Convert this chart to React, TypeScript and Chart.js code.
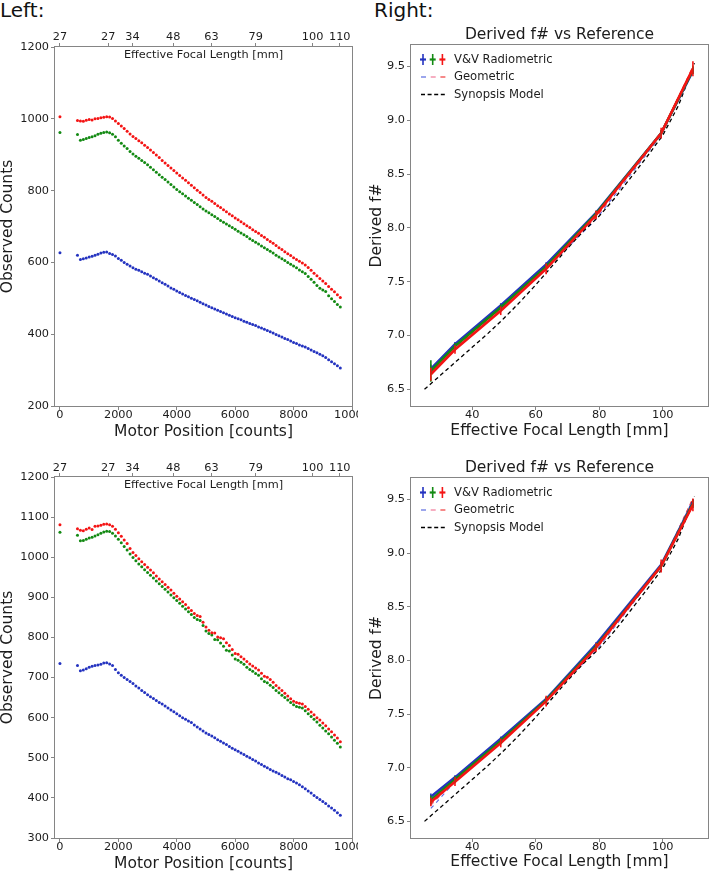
import React, { useEffect, useRef } from "react";
import { Chart, registerables } from "chart.js";
Chart.register(...registerables);

const FONT_FAMILY = "'DejaVu Sans', 'Liberation Sans', sans-serif";
const SPINE = "#858585";
const TEXT = "#1c1c1c";
const RED = "#f41414";
const GREEN = "#138a13";
const BLUE = "#2433c0";
const GEO_BLUE = "#5a6ae0";
const GEO_PINK = "#f07898";
const GEO_RED = "#f03a3a";

// ---------------- Left panels: observed counts vs motor position ----------------
const motorPosition = [
  0,
  600, 700, 800, 900,
  1000, 1100, 1200, 1300, 1400, 1500, 1600, 1700, 1800, 1900,
  2000, 2100, 2200, 2300, 2400, 2500, 2600, 2700, 2800, 2900,
  3000, 3100, 3200, 3300, 3400, 3500, 3600, 3700, 3800, 3900,
  4000, 4100, 4200, 4300, 4400, 4500, 4600, 4700, 4800, 4900,
  5000, 5100, 5200, 5300, 5400, 5500, 5600, 5700, 5800, 5900,
  6000, 6100, 6200, 6300, 6400, 6500, 6600, 6700, 6800, 6900,
  7000, 7100, 7200, 7300, 7400, 7500, 7600, 7700, 7800, 7900,
  8000, 8100, 8200, 8300, 8400, 8500, 8600, 8700, 8800, 8900,
  9000, 9100, 9200, 9300, 9400, 9500, 9600,
];

const topRed = [
  1006,
  995, 994, 993, 996,
  998, 997, 1000, 1001, 1003, 1004, 1006, 1005, 1001, 994,
  987, 980, 973, 965, 958, 951, 945, 939, 933, 926,
  920, 913, 906, 899, 892, 884, 877, 870, 863, 856,
  849, 842, 835, 829, 822, 815, 808, 801, 795, 788,
  781, 775, 770, 764, 758, 753, 747, 741, 735, 730,
  724, 719, 713, 708, 702, 697, 691, 686, 681, 675,
  670, 664, 658, 653, 647, 641, 636, 630, 624, 619,
  613, 608, 603, 598, 593, 586, 578, 570, 563, 555,
  548, 541, 533, 525, 518, 510, 502,
];
const topGreen = [
  962,
  956, 940, 942, 945,
  948, 950, 953, 957, 960, 962, 963, 961, 957, 950,
  940, 932, 924, 917, 909, 902, 896, 890, 884, 878,
  872, 865, 858, 851, 844, 837, 831, 824, 817, 810,
  803, 797, 791, 785, 779, 773, 767, 761, 755, 749,
  743, 738, 733, 728, 722, 717, 712, 707, 702, 697,
  692, 687, 682, 677, 672, 666, 661, 656, 651, 646,
  641, 636, 631, 626, 620, 615, 610, 605, 600, 595,
  590, 585, 579, 574, 569, 561, 553, 545, 536, 528,
  523, 519, 507, 499, 491, 483, 476,
];
const topBlue = [
  627,
  620, 608, 610, 612,
  615, 617, 620, 623, 626, 628, 629, 625, 622, 618,
  611, 606, 600, 595, 590, 585, 581, 578, 574, 570,
  567, 562, 557, 553, 548, 543, 539, 534, 529, 525,
  520, 516, 512, 508, 504, 500, 497, 493, 489, 485,
  481, 477, 474, 470, 467, 463, 460, 456, 453, 449,
  446, 443, 440, 436, 433, 430, 427, 424, 420, 417,
  414, 410, 407, 403, 399, 396, 392, 388, 385, 381,
  377, 374, 370, 367, 364, 360, 356, 352, 348, 344,
  340, 335, 329, 323, 318, 312, 306,
];

const botRed = [
  1081,
  1071, 1067, 1066, 1070,
  1073, 1069, 1077, 1078, 1080, 1082, 1083, 1081, 1077, 1070,
  1061, 1052, 1043, 1034, 1022, 1012, 1004, 996, 989, 982,
  975, 968, 961, 953, 946, 939, 932, 925, 918, 910,
  903, 896, 889, 882, 874, 867, 860, 855, 852, 838,
  826, 818, 812, 811, 801, 799, 797, 787, 780, 770,
  760, 758, 752, 746, 740, 734, 729, 724, 719, 711,
  703, 701, 695, 688, 680, 674, 668, 661, 654, 647,
  641, 638, 636, 634, 628, 621, 614, 607, 600, 594,
  587, 580, 572, 565, 557, 549, 540,
];
const botGreen = [
  1062,
  1055, 1041, 1042, 1045,
  1048, 1050, 1053, 1056, 1060, 1063, 1065, 1064, 1060, 1053,
  1045, 1036, 1027, 1018, 1008, 999, 991, 983, 976, 969,
  962, 955, 948, 941, 934, 927, 920, 913, 906, 899,
  892, 885, 878, 871, 864, 857, 850, 845, 842, 830,
  816, 810, 806, 795, 794, 786, 778, 768, 766, 756,
  746, 743, 738, 733, 726, 720, 716, 710, 706, 697,
  690, 687, 681, 675, 668, 662, 656, 650, 644, 638,
  632, 628, 626, 624, 617, 610, 603, 596, 589, 581,
  574, 567, 560, 552, 544, 536, 527,
];
const botBlue = [
  735,
  730, 717, 719, 722,
  726, 728, 730, 731, 733, 736, 737, 734, 730, 720,
  712, 706, 700, 695, 690, 685, 679, 674, 668, 663,
  657, 652, 648, 643, 638, 634, 629, 624, 619, 615,
  610, 605, 600, 596, 592, 588, 582, 577, 572, 567,
  562, 558, 554, 550, 545, 541, 537, 533, 528, 524,
  520, 516, 512, 508, 504, 500, 496, 492, 487, 483,
  479, 475, 471, 467, 464, 460, 456, 452, 448, 445,
  441, 437, 433, 428, 423, 417, 412, 406, 401, 396,
  391, 386, 380, 375, 369, 363, 357,
];

const motorTicks = [0, 2000, 4000, 6000, 8000, 10000];
const eflTickMotor = [0, 1650, 2480, 3880, 5190, 6700, 8650, 9580];
const eflTickLabels = ["27", "27", "34", "48", "63", "79", "100", "110"];
const topCountTicks = [200, 400, 600, 800, 1000, 1200];
const botCountTicks = [300, 400, 500, 600, 700, 800, 900, 1000, 1100, 1200];

// ---------------- Right panels: derived f# vs EFL ----------------
const vvEfl = [27, 34.6, 49, 63.3, 79, 99.5, 109.5];

const topVvBlue = [6.69, 6.92, 7.28, 7.66, 8.14, 8.88, 9.46];
const topVvGreen = [6.67, 6.90, 7.26, 7.64, 8.13, 8.88, 9.47];
const topVvRed = [6.64, 6.87, 7.23, 7.62, 8.12, 8.88, 9.48];
const topErrBlue = [0.04, 0.02, 0.02, 0.02, 0.02, 0.03, 0.03];
const topErrGreen = [0.1, 0.03, 0.03, 0.03, 0.03, 0.03, 0.04];
const topErrRed = [0.06, 0.04, 0.04, 0.05, 0.04, 0.05, 0.07];
const topGeoBlue = [6.64, 6.88, 7.24, 7.62, 8.08, 8.86, 9.48];
const topGeoPink = [6.66, 6.89, 7.25, 7.63, 8.10, 8.87, 9.49];
const topGeoRed = [6.65, 6.88, 7.24, 7.62, 8.10, 8.88, 9.50];

const botVvBlue = [6.73, 6.91, 7.27, 7.64, 8.15, 8.89, 9.47];
const botVvGreen = [6.70, 6.89, 7.25, 7.63, 8.13, 8.88, 9.46];
const botVvRed = [6.68, 6.87, 7.23, 7.62, 8.12, 8.88, 9.45];
const botErrBlue = [0.03, 0.02, 0.02, 0.02, 0.02, 0.03, 0.03];
const botErrGreen = [0.04, 0.03, 0.03, 0.03, 0.03, 0.03, 0.04];
const botErrRed = [0.04, 0.04, 0.04, 0.05, 0.04, 0.06, 0.06];
const botGeoBlue = [6.62, 6.87, 7.24, 7.63, 8.09, 8.87, 9.50];
const botGeoPink = [6.65, 6.88, 7.25, 7.64, 8.10, 8.88, 9.51];
const botGeoRed = [6.66, 6.88, 7.24, 7.63, 8.11, 8.88, 9.51];

const synopsisEfl = [25, 30, 35, 40, 45, 50, 55, 60, 65, 70, 75, 80, 85, 90, 95, 100, 105, 110];
const synopsisFnum = [6.50, 6.63, 6.76, 6.89, 7.02, 7.16, 7.31, 7.47, 7.64, 7.81, 7.97, 8.11, 8.28, 8.47, 8.66, 8.86, 9.14, 9.53];

const eflTicks = [40, 60, 80, 100];
const fnumTicks = [6.5, 7.0, 7.5, 8.0, 8.5, 9.0, 9.5];

// ---------------- helpers ----------------
const tickFont = { family: FONT_FAMILY, size: 11.3, lineHeight: 1 };
const titleFont = { family: FONT_FAMILY, size: 15.5, lineHeight: 1 };
const gridOpts = {
  display: true,
  drawOnChartArea: false,
  drawTicks: true,
  tickLength: 4,
  color: SPINE,
  tickColor: SPINE,
  lineWidth: 1,
};

const fixedX = (h: number) => (s: any) => {
  s.height = h;
  s.paddingLeft = 0;
  s.paddingRight = 0;
};
const fixedY = (w: number) => (s: any) => {
  s.width = w;
  s.paddingTop = 0;
  s.paddingBottom = 0;
};
const setTicks = (values: number[]) => (s: any) => {
  s.ticks = values.map((v) => ({ value: v }));
};
const pts = (xs: number[], ys: number[]) => xs.map((x, i) => ({ x, y: ys[i] }));

type ErrSeries = { y: number[]; e: number[]; color: string };
type Extras = {
  inner?: { text: string; dy: number };
  title?: { text: string; dy: number };
  errors?: ErrSeries[];
  legend?: boolean;
};

function extrasPlugin(ex: Extras) {
  return {
    id: "extras",
    afterDatasetsDraw(chart: any) {
      if (!ex.errors) return;
      const { ctx, chartArea } = chart;
      const xs = chart.scales.x;
      const ys = chart.scales.y;
      ctx.save();
      ctx.beginPath();
      ctx.rect(chartArea.left, chartArea.top, chartArea.right - chartArea.left, chartArea.bottom - chartArea.top);
      ctx.clip();
      ctx.lineWidth = 1.6;
      ex.errors.forEach((s) => {
        ctx.strokeStyle = s.color;
        vvEfl.forEach((xv, i) => {
          const px = xs.getPixelForValue(xv);
          ctx.beginPath();
          ctx.moveTo(px, ys.getPixelForValue(s.y[i] - s.e[i]));
          ctx.lineTo(px, ys.getPixelForValue(s.y[i] + s.e[i]));
          ctx.stroke();
        });
      });
      ctx.restore();
    },
    afterDraw(chart: any) {
      const { ctx, chartArea } = chart;
      const { left, right, top, bottom } = chartArea;
      ctx.save();
      ctx.strokeStyle = SPINE;
      ctx.lineWidth = 1;
      ctx.strokeRect(Math.round(left) - 0.5, Math.round(top) - 0.5, Math.round(right - left) + 1, Math.round(bottom - top) + 1);
      ctx.fillStyle = TEXT;
      ctx.textAlign = "center";
      ctx.textBaseline = "middle";
      const cx = (left + right) / 2;
      if (ex.inner) {
        ctx.font = `11.3px ${FONT_FAMILY}`;
        ctx.fillText(ex.inner.text, cx, top + ex.inner.dy);
      }
      if (ex.title) {
        ctx.font = `15.5px ${FONT_FAMILY}`;
        ctx.fillText(ex.title.text, cx, top + ex.title.dy);
      }
      if (ex.legend) {
        const rows = [top + 14.5, top + 32, top + 49.5];
        // V&V Radiometric: three error-bar handles
        [BLUE, GREEN, RED].forEach((c, i) => {
          const mx = left + 12 + i * 9.7;
          ctx.strokeStyle = c;
          ctx.setLineDash([]);
          ctx.lineWidth = 2.2;
          ctx.beginPath();
          ctx.moveTo(mx - 3, rows[0]);
          ctx.lineTo(mx + 3, rows[0]);
          ctx.stroke();
          ctx.lineWidth = 1.6;
          ctx.beginPath();
          ctx.moveTo(mx, rows[0] - 5.5);
          ctx.lineTo(mx, rows[0] + 5.5);
          ctx.stroke();
        });
        // Geometric: three short dashes
        [GEO_BLUE, GEO_PINK, GEO_RED].forEach((c, i) => {
          const mx = left + 12.5 + i * 9.7;
          ctx.strokeStyle = c;
          ctx.lineWidth = 1.2;
          ctx.beginPath();
          ctx.moveTo(mx - 2.5, rows[1]);
          ctx.lineTo(mx + 2.5, rows[1]);
          ctx.stroke();
        });
        // Synopsis model
        ctx.strokeStyle = "#000";
        ctx.lineWidth = 1.3;
        ctx.setLineDash([4, 2.6]);
        ctx.beginPath();
        ctx.moveTo(left + 10, rows[2]);
        ctx.lineTo(left + 35, rows[2]);
        ctx.stroke();
        ctx.setLineDash([]);
        ctx.textAlign = "left";
        ctx.font = `11.6px ${FONT_FAMILY}`;
        ctx.fillStyle = TEXT;
        ctx.fillText("V&V Radiometric", left + 43, rows[0]);
        ctx.fillText("Geometric", left + 43, rows[1]);
        ctx.fillText("Synopsis Model", left + 43, rows[2]);
      }
      ctx.restore();
    },
  };
}

function baseOptions(padding: any) {
  return {
    responsive: false,
    maintainAspectRatio: false,
    animation: false,
    devicePixelRatio: 1,
    events: [],
    layout: { padding },
    plugins: { legend: { display: false }, tooltip: { enabled: false }, title: { display: false } },
  };
}

function leftConfig(red: number[], green: number[], blue: number[], yMin: number, yTicks: number[], geom: any) {
  const scatter = (data: number[], color: string) => ({
    type: "scatter",
    data: pts(motorPosition, data),
    backgroundColor: color,
    borderColor: color,
    pointRadius: 1.5,
    pointBorderWidth: 0,
    pointHoverRadius: 0,
    showLine: false,
  });
  return {
    type: "scatter",
    data: { datasets: [scatter(red, RED), scatter(green, GREEN), scatter(blue, BLUE)] },
    options: {
      ...baseOptions({ left: 0, right: 6, top: 0, bottom: 0 }),
      scales: {
        x: {
          type: "linear",
          position: "bottom",
          min: -170,
          max: 10000,
          bounds: "data",
          afterBuildTicks: setTicks(motorTicks),
          afterFit: fixedX(geom.xH),
          grid: gridOpts,
          border: { display: false },
          ticks: { font: tickFont, color: TEXT, padding: -0.5, maxRotation: 0, autoSkip: false, callback: (v: number) => String(v) },
          title: { display: true, text: "Motor Position [counts]", font: titleFont, color: TEXT, padding: { top: 0, bottom: geom.xTitlePad } },
        },
        x2: {
          type: "linear",
          position: "top",
          min: -170,
          max: 10000,
          bounds: "data",
          afterBuildTicks: setTicks(eflTickMotor),
          afterFit: fixedX(geom.x2H),
          grid: gridOpts,
          border: { display: false },
          ticks: { font: tickFont, color: TEXT, padding: geom.x2Pad, maxRotation: 0, autoSkip: false, callback: (_v: number, i: number) => eflTickLabels[i] },
        },
        y: {
          type: "linear",
          position: "left",
          min: yMin,
          max: 1200,
          bounds: "data",
          afterBuildTicks: setTicks(yTicks),
          afterFit: fixedY(55),
          grid: gridOpts,
          border: { display: false },
          ticks: { font: tickFont, color: TEXT, padding: 2, autoSkip: false, callback: (v: number) => String(v) },
          title: { display: true, text: "Observed Counts", font: titleFont, color: TEXT, padding: { top: 0.5, bottom: 0 } },
        },
      },
    },
    plugins: [extrasPlugin({ inner: { text: "Effective Focal Length [mm]", dy: geom.innerDy } })],
  };
}

function rightConfig(
  vv: number[][],
  err: number[][],
  geo: number[][],
  geom: any
) {
  const vvColors = [BLUE, GREEN, RED];
  const geoColors = [GEO_BLUE, GEO_PINK, GEO_RED];
  const datasets: any[] = [];
  // higher "order" is drawn first (underneath)
  geo.forEach((s, i) => {
    datasets.push({
      type: "line",
      data: pts(vvEfl, s),
      borderColor: geoColors[i],
      borderWidth: 1.1,
      borderDash: [4, 4],
      pointRadius: 0,
      fill: false,
      order: 22 - i,
    });
  });
  datasets.push({
    type: "line",
    data: pts(synopsisEfl, synopsisFnum),
    borderColor: "#000",
    borderWidth: 1.3,
    borderDash: [4, 3],
    pointRadius: 0,
    fill: false,
    order: 15,
  });
  vv.forEach((s, i) => {
    datasets.push({
      type: "line",
      data: pts(vvEfl, s),
      borderColor: vvColors[i],
      backgroundColor: vvColors[i],
      borderWidth: 2.6,
      pointRadius: 0,
      fill: false,
      order: 12 - i,
    });
  });
  return {
    type: "line",
    data: { datasets },
    options: {
      ...baseOptions({ left: 0, right: 2, top: geom.padTop, bottom: 0 }),
      scales: {
        x: {
          type: "linear",
          position: "bottom",
          min: 20.75,
          max: 114.25,
          bounds: "data",
          afterBuildTicks: setTicks(eflTicks),
          afterFit: fixedX(geom.xH),
          grid: gridOpts,
          border: { display: false },
          ticks: { font: tickFont, color: TEXT, padding: -0.5, maxRotation: 0, autoSkip: false, callback: (v: number) => String(v) },
          title: { display: true, text: "Effective Focal Length [mm]", font: titleFont, color: TEXT, padding: { top: 0, bottom: geom.xTitlePad } },
        },
        y: {
          type: "linear",
          position: "left",
          min: 6.345,
          max: 9.7,
          bounds: "data",
          afterBuildTicks: setTicks(fnumTicks),
          afterFit: fixedY(53),
          grid: gridOpts,
          border: { display: false },
          ticks: { font: tickFont, color: TEXT, padding: 2, autoSkip: false, callback: (v: number) => v.toFixed(1) },
          title: { display: true, text: "Derived f#", font: titleFont, color: TEXT, padding: { top: 10.75, bottom: 0 } },
        },
      },
    },
    plugins: [
      extrasPlugin({
        title: { text: "Derived f# vs Reference", dy: -10 },
        errors: vv.map((s, i) => ({ y: s, e: err[i], color: vvColors[i] })),
        legend: true,
      }),
    ],
  };
}

function ChartCanvas(props: { left: number; top: number; width: number; height: number; make: () => any }) {
  const ref = useRef<HTMLCanvasElement>(null);
  useEffect(() => {
    const chart = new Chart(ref.current as HTMLCanvasElement, props.make());
    return () => chart.destroy();
  }, []);
  return (
    <canvas
      ref={ref}
      width={props.width}
      height={props.height}
      style={{ position: "absolute", left: props.left, top: props.top, width: props.width, height: props.height }}
    />
  );
}

const headStyle: React.CSSProperties = {
  position: "absolute",
  fontFamily: FONT_FAMILY,
  fontSize: 20,
  lineHeight: "20px",
  color: "#111",
  whiteSpace: "nowrap",
};

export default function App() {
  return (
    <div style={{ position: "absolute", left: 0, top: 0, width: 710, height: 873, background: "#fff", overflow: "hidden" }}>
      <div style={{ ...headStyle, left: 0, top: 0 }}>Left:</div>
      <div style={{ ...headStyle, left: 374, top: 0 }}>Right:</div>
      <ChartCanvas
        left={0}
        top={22}
        width={358}
        height={423}
        make={() => leftConfig(topRed, topGreen, topBlue, 200, topCountTicks, { xH: 39, x2H: 25, xTitlePad: 5.75, x2Pad: 0, innerDy: 7.6 })}
      />
      <ChartCanvas
        left={358}
        top={22}
        width={352}
        height={423}
        make={() =>
          rightConfig(
            [topVvBlue, topVvGreen, topVvRed],
            [topErrBlue, topErrGreen, topErrRed],
            [topGeoBlue, topGeoPink, topGeoRed],
            { padTop: 23, xH: 39, xTitlePad: 6.75 }
          )
        }
      />
      <ChartCanvas
        left={0}
        top={445}
        width={358}
        height={428}
        make={() => leftConfig(botRed, botGreen, botBlue, 300, botCountTicks, { xH: 35, x2H: 32, xTitlePad: 1.25, x2Pad: -1, innerDy: 8.4 })}
      />
      <ChartCanvas
        left={358}
        top={445}
        width={352}
        height={428}
        make={() =>
          rightConfig(
            [botVvBlue, botVvGreen, botVvRed],
            [botErrBlue, botErrGreen, botErrRed],
            [botGeoBlue, botGeoPink, botGeoRed],
            { padTop: 33, xH: 35, xTitlePad: 3.5 }
          )
        }
      />
    </div>
  );
}
